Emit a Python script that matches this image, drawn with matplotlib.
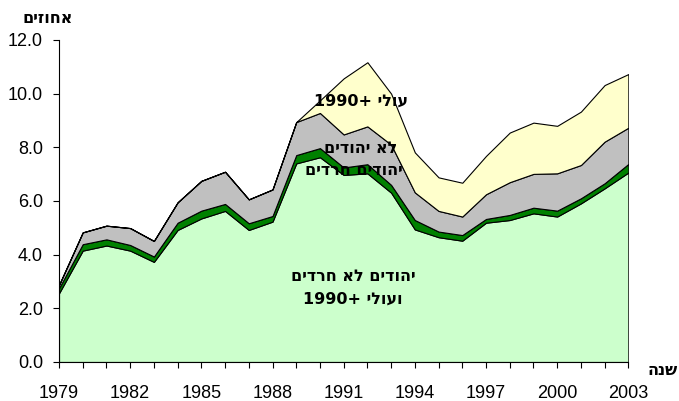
import matplotlib.pyplot as plt
from matplotlib.ticker import FixedLocator, MultipleLocator, FormatStrFormatter

years = list(range(1979, 2004))

# layer thicknesses, percent
jews_non_haredi = [2.56, 4.15, 4.34, 4.15, 3.73, 4.92, 5.35, 5.63, 4.92, 5.23,
                   7.40, 7.63, 6.97, 7.03, 6.31, 4.94, 4.65, 4.52, 5.19, 5.29,
                   5.54, 5.42, 5.91, 6.47, 7.06]
haredi = [0.19, 0.24, 0.23, 0.21, 0.20, 0.27, 0.29, 0.26, 0.25, 0.21,
          0.31, 0.34, 0.28, 0.34, 0.29, 0.35, 0.21, 0.21, 0.14, 0.19,
          0.21, 0.22, 0.19, 0.19, 0.32]
non_jews = [0.12, 0.44, 0.51, 0.63, 0.58, 0.76, 1.11, 1.20, 0.89, 0.99,
            1.23, 1.31, 1.23, 1.41, 1.50, 1.03, 0.77, 0.69, 0.92, 1.22,
            1.26, 1.39, 1.24, 1.55, 1.35]
olim = [0, 0, 0, 0, 0, 0, 0, 0, 0, 0,
        0, 0.47, 2.09, 2.39, 1.90, 1.49, 1.25, 1.26, 1.43, 1.85,
        1.91, 1.77, 1.99, 2.11, 2.00]

colors = ['#CCFFCC', '#008000', '#C0C0C0', '#FFFFCC']


def rtl(s):
    # no bidi in matplotlib: flip word order and the letters of hebrew words
    out = []
    for w in reversed(s.split(' ')):
        if any('\u0590' <= c <= '\u05ff' for c in w):
            w = w[::-1]
        out.append(w)
    return ' '.join(out)


plt.rcParams['font.family'] = ['Liberation Sans', 'DejaVu Sans']

fig = plt.figure(figsize=(6.79, 4.01), dpi=100)
ax = fig.add_axes([0.0869, 0.0973, 0.8385, 0.803])

ax.stackplot(years, jews_non_haredi, haredi, non_jews, olim, colors=colors,
             edgecolor='black', linewidth=0.8)

ax.set_xlim(1979, 2003)
ax.set_ylim(0, 12)
ax.xaxis.set_major_locator(FixedLocator(years[::3]))
ax.xaxis.set_minor_locator(FixedLocator(years))
ax.yaxis.set_major_locator(MultipleLocator(2))
ax.yaxis.set_major_formatter(FormatStrFormatter('%.1f'))
ax.tick_params(which='both', direction='out', length=4.5, width=0.8, color='black')
ax.tick_params(axis='x', labelsize=13, pad=12)
ax.tick_params(axis='y', labelsize=13, pad=7)

ax.spines['top'].set_visible(False)
ax.spines['right'].set_visible(False)
ax.spines['left'].set_linewidth(0.8)
ax.spines['bottom'].set_linewidth(0.8)

lbl = dict(fontsize=11.5, fontweight='bold', ha='center', va='center',
           family=['DejaVu Sans'])
ax.text(1991.73, 9.71, rtl('עולי 1990+'), **lbl)
ax.text(1991.73, 7.94, rtl('לא יהודים'), **lbl)
ax.text(1991.44, 7.12, rtl('יהודים חרדים'), **lbl)
ax.text(1991.39, 3.17, rtl('יהודים לא חרדים'), **lbl)
ax.text(1991.39, 2.35, rtl('ועולי 1990+'), **lbl)

fig.text(0.070, 0.953, rtl('אחוזים'), **lbl)
lbl['ha'] = 'right'
fig.text(0.998, 0.075, rtl('שנה'), **lbl)

fig.savefig('out.png', dpi=100)
